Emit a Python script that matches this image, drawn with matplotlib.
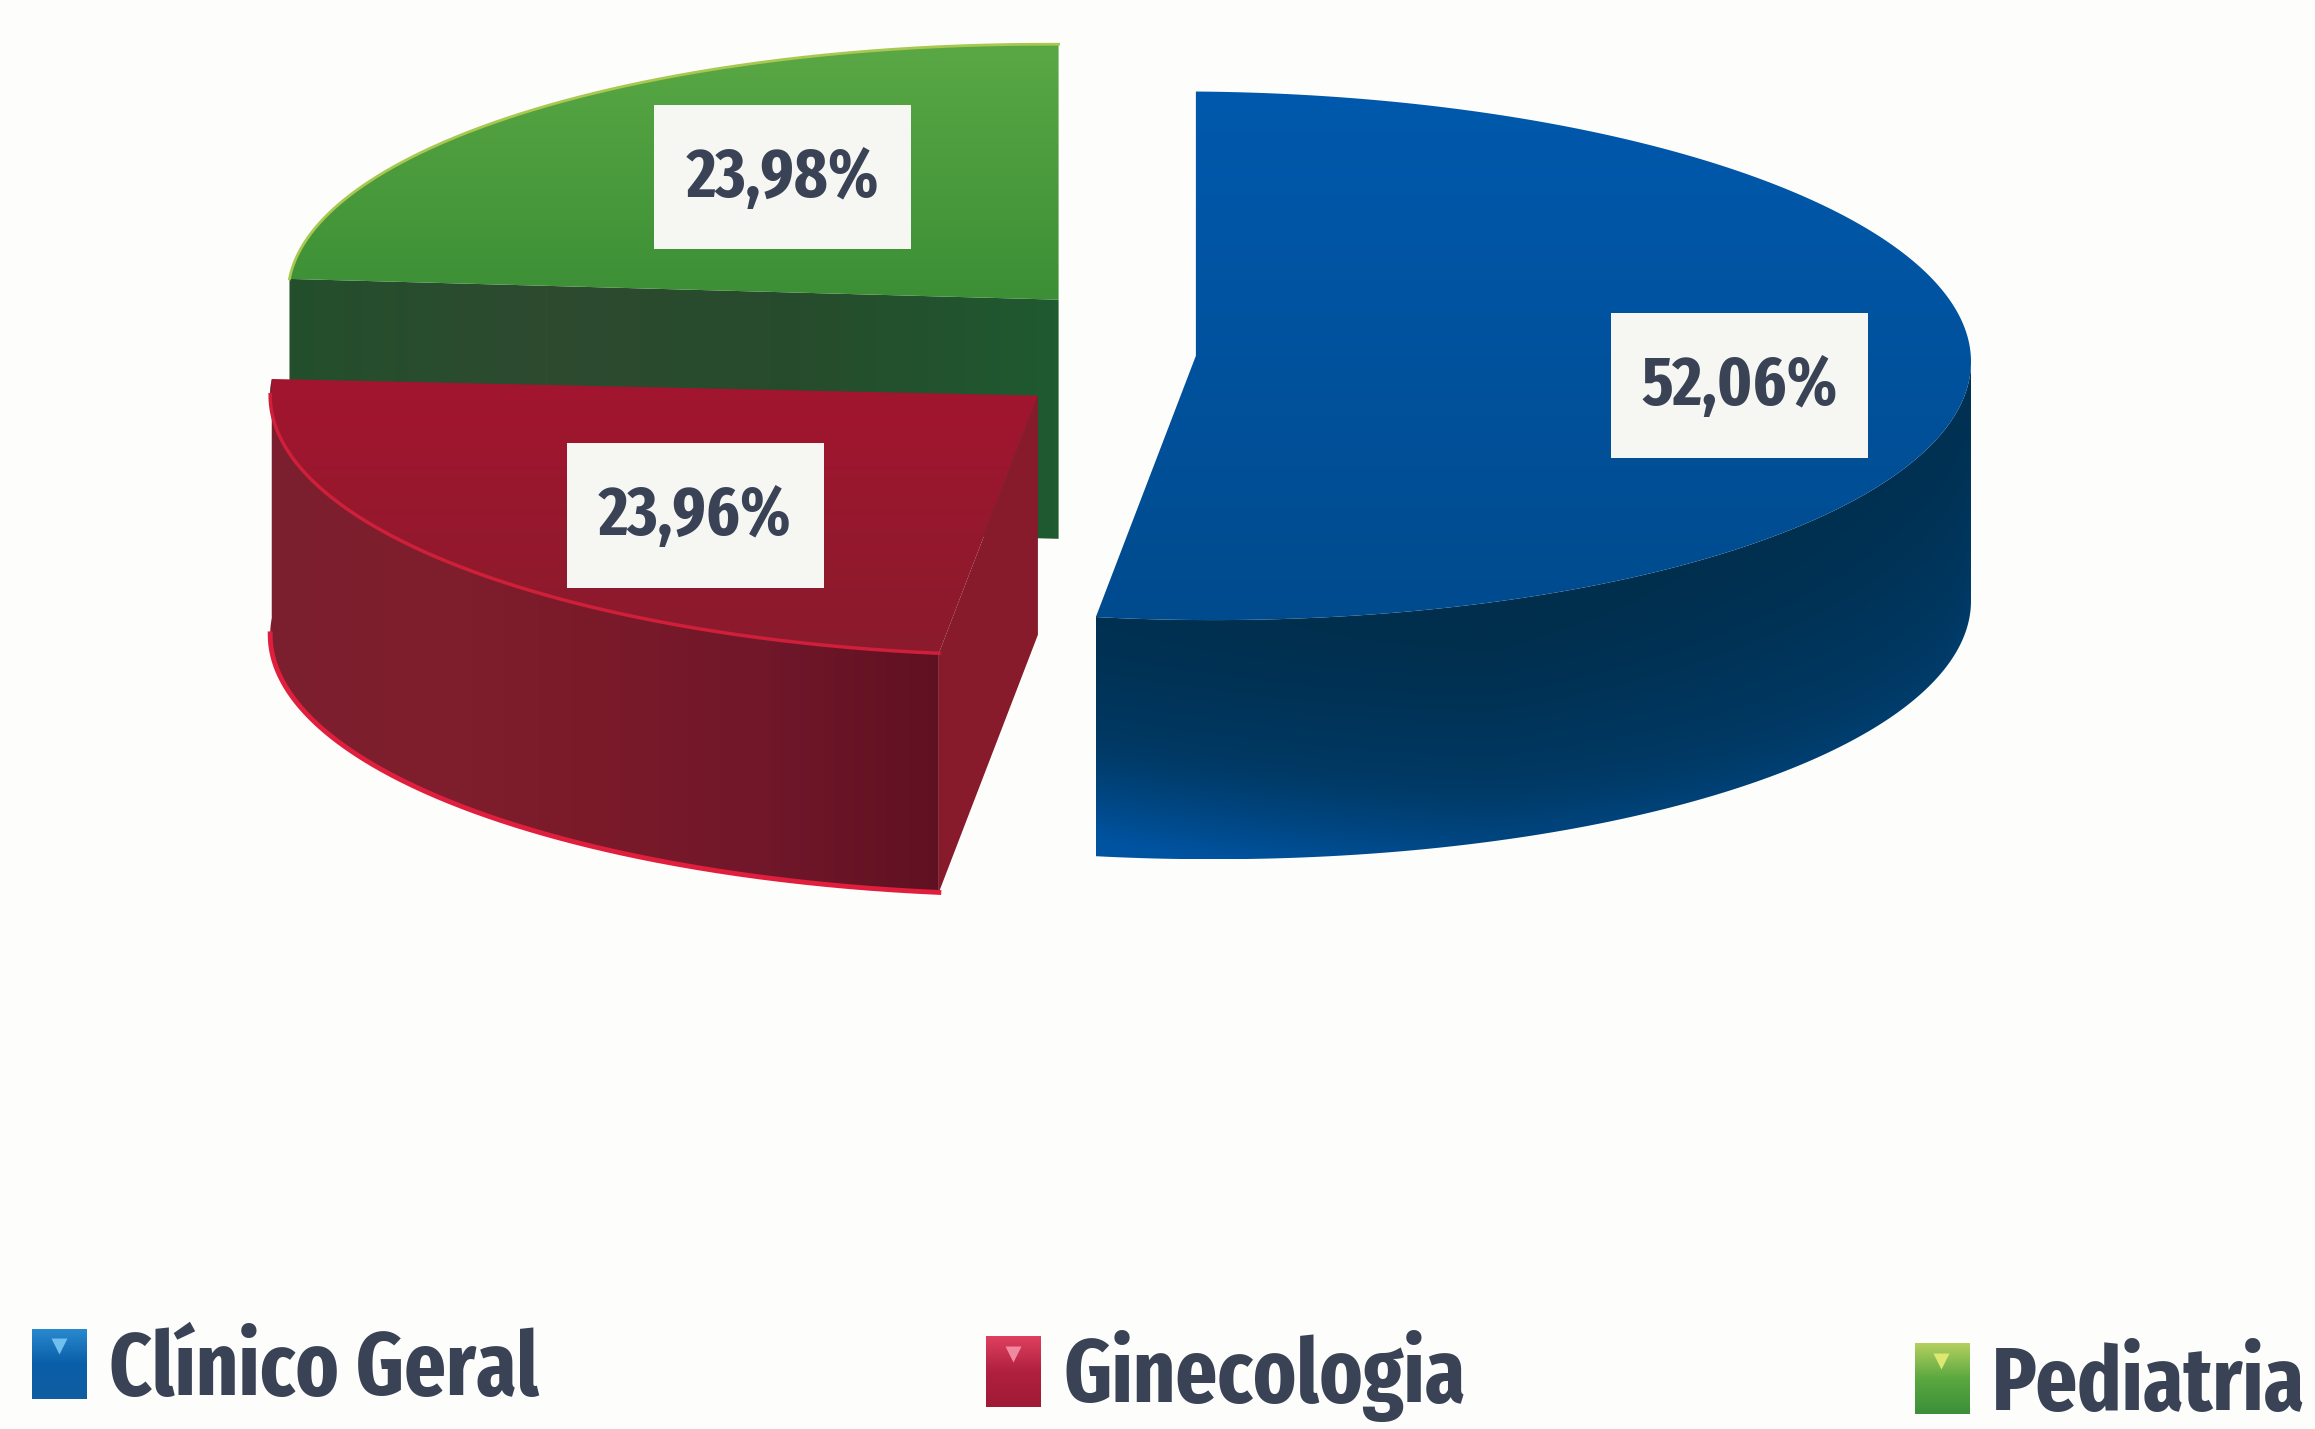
import numpy as np
import matplotlib
matplotlib.use("Agg")
import matplotlib.pyplot as plt
from matplotlib import font_manager
from matplotlib.colors import LinearSegmentedColormap
from matplotlib.patches import Polygon, Rectangle

categories = ["Clínico Geral", "Ginecologia", "Pediatria"]
values = [52.06, 23.96, 23.98]
value_labels = ["52,06%", "23,96%", "23,98%"]

W, H = 1568, 968  # drawing units, same as the shrunk reference
DEPTH = 162
# per slice: apex x, apex y, radius x, radius y, shear
shapes = [(810, 241, 525, 179, 4), (703, 268, 520, 176, 0), (717, 203, 522, 173, 3)]
label_centers = [(1178, 261), (471, 349), (530, 120)]
legend_x = [22, 668, 1297]
legend_y = [900, 905, 910]
top_cols = [["#0059ad", "#004b8e"], ["#a3152f", "#8a1b2c"], ["#5aa845", "#3c8f35"]]
key_cols = [["#2a8bd0", "#0a5ea8", "#0f5da0"], ["#e0405f", "#b0203f", "#a01a35"], ["#b5d060", "#5aa840", "#3c8f3a"]]
tick_cols = ["#6fc0ee", "#f08aa0", "#dde870"]

installed = {f.name for f in font_manager.fontManager.ttflist}
narrow = [n for n in ["Fira Sans Extra Condensed", "Fira Sans Condensed", "Roboto Condensed"] if n in installed]
legend_size = 64 if narrow else 48
plt.rcParams["font.family"] = narrow[:1] + ["Open Sans", "DejaVu Sans"]

fig = plt.figure(figsize=(23.15, 14.29), dpi=100, facecolor="#fdfdfb")
ax = fig.add_axes([0, 0, 1, 1])
ax.set_axis_off()


def arc(shape, a0, a1, n=300):
    cx, cy, rx, ry, shear = shape
    t = np.radians(np.linspace(a0, a1, n))
    return np.column_stack([cx + rx * np.cos(t), cy - ry * np.sin(t) + shear * np.cos(t)])


def gradient_fill(pts, colors, vertical=False, image=None):
    # gradient image clipped to a polygon
    cmap = LinearSegmentedColormap.from_list("g", colors)
    g = np.linspace(0, 1, 256)
    g = g.reshape(-1, 1) if vertical else g.reshape(1, -1)
    if image is not None:
        g = image
    x0, x1 = pts[:, 0].min(), pts[:, 0].max()
    y0, y1 = pts[:, 1].min(), pts[:, 1].max()
    im = ax.imshow(g, cmap=cmap, vmin=0, vmax=1, extent=(x0, x1, y1, y0), aspect="auto", interpolation="bilinear")
    im.set_clip_path(Polygon(pts, transform=ax.transData))


# slice angles come from the values, clockwise from the top
ends = np.cumsum(values) * 3.6
starts = np.concatenate([[0], ends[:-1]])
a0 = 90 - starts
a1 = 90 - ends

# green first, it sits behind the red one
rim = arc(shapes[2], a0[2], a1[2])
apex = np.array(shapes[2][:2], dtype=float)
left = rim[0]
cut = np.array([left, apex, apex + [0, DEPTH], left + [0, DEPTH]])
gradient_fill(cut, ["#234f2c", "#2e4a30", "#264c2c", "#1f5a30"])
gradient_fill(np.vstack([apex, rim]), top_cols[2], vertical=True)
ax.plot(rim[:, 0], rim[:, 1], color="#a8c850", lw=2)

# red
rim = arc(shapes[1], a0[1], a1[1])
apex = np.array(shapes[1][:2], dtype=float)
lower = rim + [0, DEPTH]
gradient_fill(np.vstack([apex, rim]), top_cols[1], vertical=True)
gradient_fill(np.vstack([rim, lower[::-1]]), ["#7b1f2e", "#7f1e2c", "#7a1a29", "#70172a", "#601121"])
cut = np.array([apex, rim[0], lower[0], apex + [0, DEPTH]])
ax.add_patch(Polygon(cut, fc="#871a2b", ec="none"))
ax.plot(rim[:-12, 0], rim[:-12, 1], color="#cf1f3a", lw=2.5)
ax.plot(lower[:-12, 0], lower[:-12, 1], color="#e01f3f", lw=3.5)

# blue, the wall gets bluer towards its lower edge and on the left
rim = arc(shapes[0], a0[0], a1[0])
apex = np.array(shapes[0][:2], dtype=float)
front = rim[np.argmax(rim[:, 0]):]
by_x = front[np.argsort(front[:, 0])]
xs = np.linspace(front[:, 0].min(), front[:, 0].max(), 300)
ys = np.linspace(front[:, 1].min(), front[:, 1].max() + DEPTH, 300)
xx, yy = np.meshgrid(xs, ys)
depth = np.clip((yy - np.interp(xx, by_x[:, 0], by_x[:, 1])) / DEPTH, 0, 1)
xnorm = (xx - xs[0]) / (xs[-1] - xs[0])
wall = np.clip(depth ** 1.6 * (1 - 0.6 * xnorm) + 0.25 * np.abs(xnorm - 0.45), 0, 1)
gradient_fill(np.vstack([front, (front + [0, DEPTH])[::-1]]), ["#002e4c", "#003a66", "#0053a0"], image=wall)
gradient_fill(np.vstack([apex, rim]), top_cols[0], vertical=True)

# value boxes
for (lx, ly), txt in zip(label_centers, value_labels):
    ax.add_patch(Rectangle((lx - 87, ly - 49), 174, 98, fc="#f6f6f2", ec="none", zorder=5))
    ax.text(lx, ly + 1, txt, ha="center", va="center", fontsize=50 if narrow else 38, fontweight="bold", color="#3a4356", zorder=6)

# legend
for i, name in enumerate(categories):
    x, y = legend_x[i], legend_y[i]
    box = np.array([[x, y], [x + 37, y], [x + 37, y + 48], [x, y + 48]])
    gradient_fill(box, key_cols[i], vertical=True)
    ax.plot([x + 18], [y + 12], marker="v", ms=11, color=tick_cols[i], mec="none")
    ax.text(x + 52, y + 45, name, ha="left", va="baseline", fontsize=legend_size, fontweight="bold", color="#3a4356")

ax.set_xlim(0, W)
ax.set_ylim(H, 0)
fig.savefig("out.png", dpi=100, facecolor=fig.get_facecolor())
